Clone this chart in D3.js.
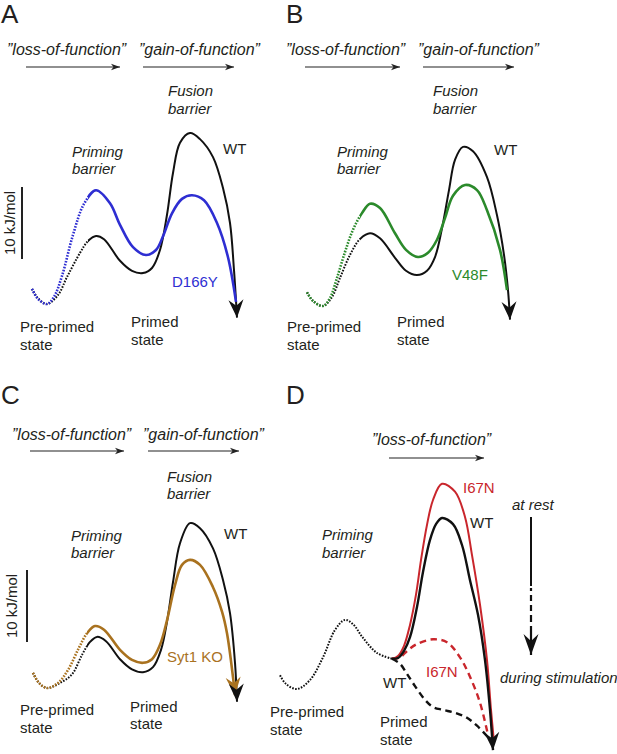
<!DOCTYPE html>
<html><head><meta charset="utf-8">
<script src="https://cdn.jsdelivr.net/npm/d3@7"></script>
<style>
body{margin:0;background:#fff}
svg{display:block}
text{font-family:"Liberation Sans",Arial,sans-serif;fill:#231f20}
</style>
</head><body>
<svg id="chart" width="617" height="754"></svg>
<script>
// ---------------- data ----------------
const panelLetters = ["A", "B", "C", "D"];
const trendLabels = ["\u201Dloss-of-function\u201D", "\u201Dgain-of-function\u201D"];
const fusionLabel = ["Fusion", "barrier"];
const primingLabel = ["Priming", "barrier"];
const prePrimedLabel = ["Pre-primed", "state"];
const primedLabel = ["Primed", "state"];
const wtLabel = "WT";
const scaleBarLabel = "10 kJ/mol";
const scaleBarValue = 10; // kJ/mol
const mutantNames = ["D166Y", "V48F", "Syt1 KO", "I67N"];
const mutantColors = ["#2e2ed2", "#2b8a2b", "#a9721f", "#c9262c"];
const restLabel = "at rest";
const stimLabel = "during stimulation";

// [reaction coordinate (a.u.), free energy (kJ/mol)]
const wtA = [[0,2.1],[1.2,0.8],[3.0,0],[5.2,1.25],[7.0,3.75],[9.6,7.1],[11.2,8.75],[12.8,9.45],[14.4,9.0],[17.6,6.0],[20.0,4.6],[22.2,4.3],[24.0,5.0],[25.6,7.5],[27.0,12.4],[28.2,18.2],[29.6,22.4],[31.6,23.75],[33.6,22.9],[36.2,20.4],[38.2,16.1],[39.6,11.25],[40.4,4.7],[41.0,-1.9]];
const d166yA = [[0,2.1],[1.2,0.7],[3.0,0],[4.4,1.0],[6.0,3.9],[8.2,9.6],[10.4,13.9],[12.8,15.8],[15.6,14.0],[17.6,11.0],[20.2,7.9],[22.8,6.8],[24.8,7.5],[26.2,9.4],[28.0,12.6],[30.0,14.6],[32.0,15.1],[34.4,14.4],[37.0,11.25],[39.2,6.5],[40.8,0.3]];
const wtB = [[0,1.9],[1.2,0.7],[3.2,0],[5.0,1.25],[6.6,3.9],[8.6,7.1],[10.6,9.3],[12.6,10.1],[14.6,9.4],[17.6,6.7],[19.8,4.9],[22.0,4.3],[24.0,4.9],[25.6,6.8],[27.0,10.8],[28.4,16.1],[29.6,20.3],[31.2,22.1],[33.2,21.5],[36.0,17.9],[38.0,12.6],[39.4,7.1],[40.2,2.2],[40.6,-1.9]];
const v48fB = [[0,1.9],[1.2,0.7],[3.2,0],[4.6,1.1],[6.0,3.9],[7.6,7.5],[9.2,10.6],[11.0,12.9],[12.6,14.2],[14.6,13.6],[17.6,10.1],[19.8,7.8],[22.2,6.8],[24.2,7.4],[26.0,9.2],[27.6,12.2],[29.2,15.3],[31.6,16.8],[34.0,16.1],[36.0,13.3],[38.6,7.8],[40.0,2.2]];
const wtC = [[0,2.1],[1.2,0.7],[2.8,0],[5.4,0.7],[7.8,1.9],[9.8,4.6],[11.4,6.4],[12.8,7.1],[14.6,6.5],[17.4,4.0],[19.8,2.6],[22.0,2.2],[24.0,2.9],[25.6,5.3],[26.8,9.2],[28.0,14.7],[29.4,20.1],[31.4,22.9],[33.4,22.2],[36.0,19.4],[38.0,15.0],[39.4,10.4],[40.4,3.5],[40.8,-1.9]];
const syt1koC = [[0,2.1],[1.2,0.7],[2.8,0],[5.0,0.7],[7.0,2.5],[9.2,5.6],[10.8,7.6],[12.4,8.6],[14.2,8.1],[17.4,5.3],[19.8,3.9],[22.0,3.5],[23.8,4.0],[25.4,6.0],[26.8,9.4],[28.4,14.3],[29.8,17.1],[31.4,17.8],[33.4,17.1],[36.0,14.0],[37.8,10.6],[38.8,7.6],[40.0,1.5],[40.4,-1.0]];
const wtPrimingD = [[0,1.9],[1.2,0.7],[3.4,0],[6.0,1.25],[8.6,4.4],[11.0,8.2],[13.0,9.6],[14.6,9.0],[16.6,7.1],[19.4,5.0],[22.4,4.2]];
const wtRestD = [[22.4,4.2],[23.6,4.3],[24.8,5.3],[26.0,7.2],[27.4,11.4],[28.6,16.25],[30.0,20.7],[31.2,22.9],[32.4,23.75],[34.6,22.9],[36.4,20.0],[38.0,15.1],[39.6,10.3],[41.0,4.0],[42.0,-2.9],[42.6,-8.5]];
const i67nRestD = [[22.4,4.2],[23.6,4.6],[24.8,6.0],[26.0,8.9],[27.2,13.1],[28.2,17.9],[29.4,22.8],[30.6,26.25],[32.4,28.5],[35.0,27.4],[37.0,23.9],[38.4,18.6],[40.0,11.7],[41.4,4.0],[42.2,-2.9],[42.8,-7.4]];
const i67nStimD = [[22.4,4.2],[24.0,4.4],[25.6,5.4],[27.4,6.25],[30.6,6.9],[33.4,6.5],[36.0,4.4],[38.0,1.7],[40.0,-1.9],[41.6,-6.4]];
const wtStimD = [[22.4,4.2],[24.0,3.5],[25.4,2.1],[27.0,0.4],[29.0,-1.5],[30.6,-2.5],[32.6,-2.9],[35.0,-3.3],[37.4,-4.0],[39.4,-5.1],[41.6,-6.7]];

// ---------------- drawing ----------------
const svg = d3.select("#chart");
const defs = svg.append("defs");

function marker(id, color, len, half, notch) {
  defs.append("marker").attr("id", id)
    .attr("markerUnits", "userSpaceOnUse")
    .attr("viewBox", `${-len-1} ${-half-1} ${len+2} ${2*half+2}`)
    .attr("refX", 0).attr("refY", 0)
    .attr("markerWidth", len+2).attr("markerHeight", 2*half+2)
    .attr("orient", "auto")
    .append("path")
    .attr("d", `M0,0 L${-len},${-half} L${-len+notch},0 L${-len},${half} Z`)
    .attr("fill", color);
}
marker("headBlack", "#111", 18, 7.5, 6);
marker("headBrown", mutantColors[2], 18, 7.5, 6);
marker("headSmall", "#222", 9, 3.3, 2.5);
marker("headVert", "#111", 21, 7.5, 7);

const FS = 15;

function txt(x, y, s, o = {}) {
  const t = svg.append("text").attr("x", x).attr("y", y).text(s)
    .attr("font-size", o.size || FS);
  if (o.italic) t.attr("font-style", "italic");
  if (o.color) t.style("fill", o.color);
  if (o.anchor) t.attr("text-anchor", o.anchor);
  return t;
}
function lines2(x, y, arr, dy, o) {
  arr.forEach((s, i) => txt(x, y + i * dy, s, o));
}
function hArrow(x1, x2, y) {
  svg.append("line").attr("x1", x1).attr("x2", x2).attr("y1", y).attr("y2", y)
    .attr("stroke", "#222").attr("stroke-width", 1.2).attr("marker-end", "url(#headSmall)");
}

function makeScales(x0, y0) {
  const xs = d3.scaleLinear().domain([0, 41]).range([x0, x0 + 205]);
  const ys = d3.scaleLinear().domain([0, scaleBarValue]).range([y0, y0 - 72]);
  return { xs, ys };
}
function lineGen(sc) {
  return d3.line().x(d => sc.xs(d[0])).y(d => sc.ys(d[1])).curve(d3.curveCatmullRom.alpha(0.5));
}
let clipN = 0;
function clip(x1, x2) {
  const id = "clip" + (clipN++);
  defs.append("clipPath").attr("id", id).append("rect")
    .attr("x", x1).attr("y", 0).attr("width", x2 - x1).attr("height", 754);
  return `url(#${id})`;
}
// curve with dotted part left of split
function splitCurve(sc, data, split, color, width, markerId) {
  const gen = lineGen(sc);
  const xSplit = sc.xs(split);
  svg.append("path").attr("d", gen(data)).attr("fill", "none")
    .attr("stroke", color).attr("stroke-width", width)
    .attr("stroke-dasharray", "1.6,1.4").attr("clip-path", clip(0, xSplit));
  svg.append("path").attr("d", gen(data)).attr("fill", "none")
    .attr("stroke", color).attr("stroke-width", width)
    .attr("clip-path", clip(xSplit, 617));
  if (markerId) headOnly(sc, data, markerId);
}
function headOnly(sc, data, markerId) {
  svg.append("path").attr("d", lineGen(sc)(data)).attr("fill", "none").attr("stroke", "none")
    .attr("marker-end", `url(#${markerId})`);
}
function scaleBar(sc, x, top, labelOffset) {
  const len = sc.ys(0) - sc.ys(scaleBarValue);
  svg.append("line").attr("x1", x).attr("x2", x).attr("y1", top).attr("y2", top + len)
    .attr("stroke", "#222").attr("stroke-width", 2);
  txt(0, 0, scaleBarLabel, { anchor: "middle" })
    .attr("transform", `translate(${x - labelOffset},${top + len / 2}) rotate(-90)`);
}

// ---------- Panel A ----------
{
  const sc = makeScales(32, 304);
  txt(1, 23, panelLetters[0], { size: 26 });
  txt(7, 55, trendLabels[0], { italic: true, size: 16 });
  hArrow(26, 120, 67);
  txt(139, 55, trendLabels[1], { italic: true, size: 16 });
  hArrow(143, 234, 67);
  lines2(168, 96, fusionLabel, 18, { italic: true });
  lines2(72, 157, primingLabel, 17, { italic: true });
  txt(223, 154, wtLabel);
  txt(172, 287, mutantNames[0], { color: mutantColors[0] });
  scaleBar(sc, 22, 187, 7);
  lines2(20, 332, prePrimedLabel, 18);
  lines2(131, 327, primedLabel, 18);
  splitCurve(sc, wtA, 11.2, "#111", 2, null);
  splitCurve(sc, d166yA, 11.2, mutantColors[0], 2.6, null);
  headOnly(sc, wtA, "headBlack");
}
// ---------- Panel B ----------
{
  const sc = makeScales(307, 306);
  txt(286, 23, panelLetters[1], { size: 26 });
  txt(286, 55, trendLabels[0], { italic: true, size: 16 });
  hArrow(305, 400, 67);
  txt(418, 55, trendLabels[1], { italic: true, size: 16 });
  hArrow(423, 514, 67);
  lines2(433, 96, fusionLabel, 18, { italic: true });
  lines2(337, 157, primingLabel, 17, { italic: true });
  txt(494, 155, wtLabel);
  txt(452, 280, mutantNames[1], { color: mutantColors[1] });
  lines2(287, 332, prePrimedLabel, 18);
  lines2(397, 327, primedLabel, 18);
  splitCurve(sc, wtB, 10.6, "#111", 2, null);
  splitCurve(sc, v48fB, 10.6, mutantColors[1], 2.6, null);
  headOnly(sc, wtB, "headBlack");
}
// ---------- Panel C ----------
{
  const sc = makeScales(33, 688);
  txt(1, 404, panelLetters[2], { size: 26 });
  txt(12, 440, trendLabels[0], { italic: true, size: 16 });
  hArrow(30, 124, 451);
  txt(143, 440, trendLabels[1], { italic: true, size: 16 });
  hArrow(148, 239, 451);
  lines2(167, 482, fusionLabel, 17, { italic: true });
  lines2(71, 541, primingLabel, 17, { italic: true });
  txt(224, 539, wtLabel);
  txt(167, 662, mutantNames[2], { color: mutantColors[2] });
  scaleBar(sc, 27, 570, 10);
  lines2(20, 715, prePrimedLabel, 18);
  lines2(130, 712, primedLabel, 17);
  splitCurve(sc, wtC, 10.8, "#111", 2, null);
  splitCurve(sc, syt1koC, 10.8, mutantColors[2], 2.6, "headBrown");
  headOnly(sc, wtC, "headBlack");
}
// ---------- Panel D ----------
{
  const sc = makeScales(280, 689);
  const gen = lineGen(sc);
  txt(286, 404, panelLetters[3], { size: 26 });
  txt(372, 445, trendLabels[0], { italic: true, size: 16 });
  hArrow(389, 484, 458);
  txt(463, 493, mutantNames[3], { color: mutantColors[3] });
  txt(512, 510, restLabel, { italic: true });
  txt(470, 528, wtLabel);
  lines2(322, 540, primingLabel, 18, { italic: true });
  txt(500, 683, stimLabel, { italic: true });
  txt(426, 677, mutantNames[3], { color: mutantColors[3] });
  txt(383, 688, wtLabel);
  lines2(270, 717, prePrimedLabel, 18);
  lines2(380, 727, primedLabel, 18);

  // at rest -> during stimulation arrow
  svg.append("line").attr("x1", 531).attr("x2", 531).attr("y1", 517).attr("y2", 586)
    .attr("stroke", "#111").attr("stroke-width", 2);
  svg.append("line").attr("x1", 531).attr("x2", 531).attr("y1", 588).attr("y2", 655)
    .attr("stroke", "#111").attr("stroke-width", 2.2)
    .attr("stroke-dasharray", "3,4,6,4,6,4,7,4,30")
    .attr("marker-end", "url(#headVert)");

  svg.append("path").attr("d", gen(wtPrimingD)).attr("fill", "none")
    .attr("stroke", "#111").attr("stroke-width", 2).attr("stroke-dasharray", "1.6,1.4");
  svg.append("path").attr("d", gen(wtStimD)).attr("fill", "none")
    .attr("stroke", "#111").attr("stroke-width", 2.4).attr("stroke-dasharray", "6.5,4.5");
  svg.append("path").attr("d", gen(i67nStimD)).attr("fill", "none")
    .attr("stroke", mutantColors[3]).attr("stroke-width", 2.4).attr("stroke-dasharray", "6.5,4.5");
  svg.append("path").attr("d", gen(i67nRestD)).attr("fill", "none")
    .attr("stroke", mutantColors[3]).attr("stroke-width", 2);
  svg.append("path").attr("d", gen(wtRestD)).attr("fill", "none")
    .attr("stroke", "#111").attr("stroke-width", 2.4);
  headOnly(sc, wtRestD, "headBlack");
}
</script>
</body></html>
